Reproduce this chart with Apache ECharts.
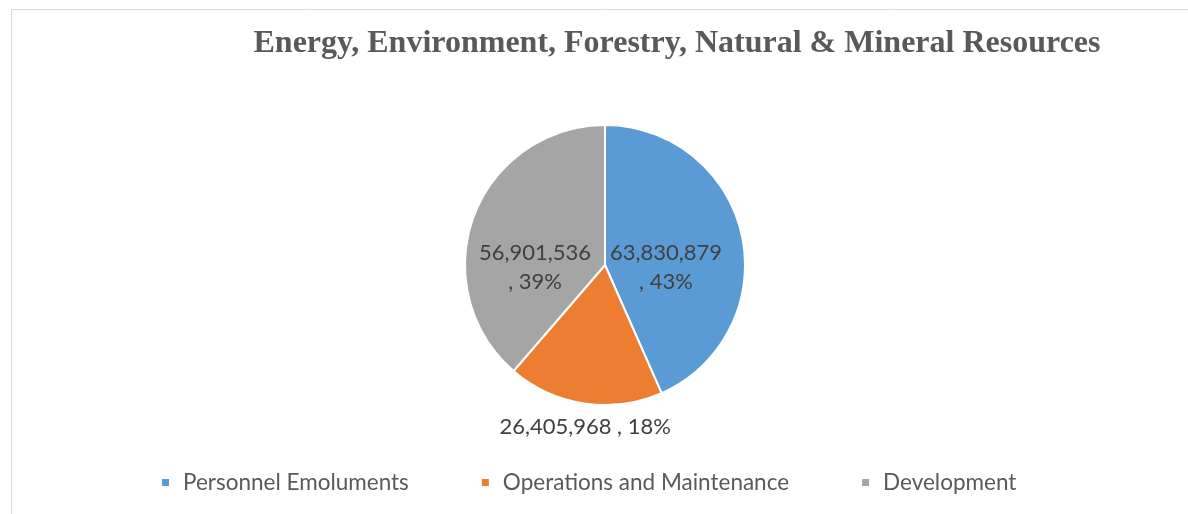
<!DOCTYPE html>
<html>
<head>
<meta charset="utf-8">
<script src="https://cdn.jsdelivr.net/npm/echarts@6/dist/echarts.min.js"></script>
<style>
html,body{margin:0;padding:0;background:#fff;}
#chart{width:1188px;height:514px;}
</style>
</head>
<body>
<div id="chart"></div>
<script>
const titleText = 'Energy, Environment, Forestry, Natural & Mineral Resources';
const categories = ['Personnel Emoluments', 'Operations and Maintenance', 'Development'];
const values = [63830879, 26405968, 56901536];
const colors = ['#5B9BD5', '#ED7D31', '#A5A5A5'];

// label placement (polar, relative to pie centre): angle clockwise from top, distance px
const labelAngles = [92, 187, 268];
const labelDists = [61, 163, 70];
const labelBreaks = ['\n', ' ', '\n'];

const CX = 605, CY = 265, R = 140;

const chart = echarts.init(document.getElementById('chart'));
const fmt = v => v.toLocaleString('en-US');

chart.setOption({
  animation: false,
  title: {
    text: titleText,
    left: 677,
    top: 44,
    padding: 0,
    textAlign: 'center',
    textVerticalAlign: 'middle',
    textStyle: {
      fontFamily: '"Liberation Serif", serif',
      fontWeight: 'bold',
      fontSize: 32,
      color: '#595959'
    }
  },
  graphic: [{
    type: 'rect',
    shape: { x: 11.5, y: 9.5, width: 1300, height: 600 },
    style: { fill: 'none', stroke: '#d9d9d9', lineWidth: 1 },
    silent: true
  }],
  legend: {
    data: categories,
    left: 160,
    top: 471,
    padding: 0,
    icon: 'rect',
    itemWidth: 9,
    itemHeight: 9,
    itemGap: 71,
    textStyle: {
      fontFamily: 'Lato, sans-serif',
      fontSize: 22.5,
      color: '#595959',
      padding: [0, 0, 0, 8]
    }
  },
  series: [{
    type: 'pie',
    center: [CX, CY],
    radius: R,
    startAngle: 90,
    clockwise: true,
    data: categories.map((c, i) => ({ name: c, value: values[i], itemStyle: { color: colors[i] } })),
    itemStyle: { borderColor: '#fff', borderWidth: 2 },
    label: {
      show: true,
      position: 'inside',
      fontFamily: 'Lato, sans-serif',
      fontSize: 22,
      lineHeight: 29,
      color: '#404040',
      align: 'center',
      formatter: p => fmt(p.value) + labelBreaks[p.dataIndex] + ', ' + Math.round(p.percent) + '%'
    },
    labelLine: { show: false },
    labelLayout: p => {
      const a = labelAngles[p.dataIndex] * Math.PI / 180;
      const d = labelDists[p.dataIndex];
      return {
        x: CX + d * Math.sin(a),
        y: CY - d * Math.cos(a),
        align: 'center',
        verticalAlign: 'middle'
      };
    }
  }]
});
</script>
</body>
</html>
